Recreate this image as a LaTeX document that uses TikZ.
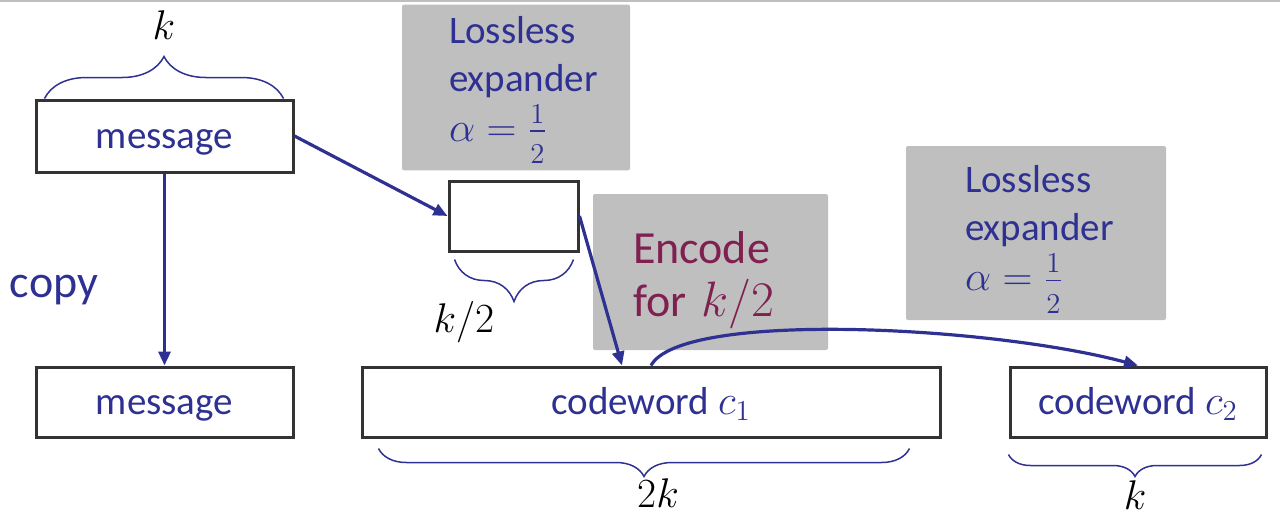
\documentclass[tikz,border=0pt]{standalone}
\usepackage{amsmath}
\usepackage{fontspec}
\setmainfont{Carlito}
\usepackage{xcolor}
\definecolor{navy}{RGB}{46, 49, 146}
\definecolor{wine}{RGB}{128, 32, 80}
\definecolor{boxgray}{RGB}{191, 191, 191}
\usepackage{tikz}
\usetikzlibrary{
    arrows.meta,
    positioning,
    decorations.pathreplacing
}
\tikzstyle{arrow} = [
    navy,
    line width=1.6pt,
    -{Triangle[length=7pt, width=6pt]}
]
\newcommand{\halfalpha}{$\alpha=\genfrac{}{}{0.8pt}{}{\raisebox{1pt}{$\scriptstyle 1$}}{\raisebox{-4pt}{$\scriptstyle 2$}}$}

\begin{document}
\begin{tikzpicture}[
  x=0.5pt, y=-0.5pt,
  block/.style={draw=black!80, line width=1.5pt, fill=white, text=navy,
    font=\fontsize{19.5}{22}\selectfont, minimum height=35pt, inner sep=0pt,
    text height=12pt, text depth=0pt},
  note/.style={fill=boxgray, rounded corners=1pt, text=navy, align=left,
    font=\fontsize{19.5}{24}\selectfont},
  curly/.style={navy, line width=0.75pt, decorate,
    decoration={brace, amplitude=#1}},
  sizelbl/.style={font=\fontsize{19.5}{22}\selectfont, text=black}
]
\useasboundingbox (0,0) rectangle (1280,515);
\draw[black!25, line width=1pt] (0,1) -- (1280,1);

% grey notes
\node (exp1) [note, minimum width=114pt, minimum height=80.5pt, text width=67pt,
  inner xsep=23.5pt] at (516,87.5)
  {\rule{0pt}{16pt}Lossless\\expander\\[1pt]\halfalpha};
\node (enc) [note, minimum width=117.5pt, minimum height=78pt, text width=77.5pt,
  inner xsep=20pt, text=wine, font=\fontsize{23}{26.5}\selectfont] at (710.5,272)
  {\rule{0pt}{24pt}Encode\\for $k/2$};
\node (exp2) [note, minimum width=130pt, minimum height=87pt, text width=71pt,
  inner xsep=29.5pt] at (1036,233)
  {\rule{0pt}{20pt}Lossless\\expander\\[1pt]\halfalpha};

% boxes
\node (msg)     [block, minimum width=128.5pt, minimum height=36pt] at (164.5,136) {message};
\node (msgcopy) [block, minimum width=128.5pt] at (164.5,402) {message};
\node (half)    [block, minimum width=64.5pt] at (513.5,216) {};
\node (cw1)     [block, minimum width=289pt] at (651,402) {codeword $c_1$};
\node (cw2)     [block, minimum width=128pt] at (1138,402) {codeword $c_2$};

\node (copy) [text=navy, font=\fontsize{23}{27}\selectfont] at (54,290) {copy};

% braces
\draw[curly=21pt] ([xshift=5pt]msg.north west) -- ([xshift=-5.5pt]msg.north east)
  node[sizelbl, midway, above=26pt] {$k$};
\draw[curly=21pt] ([xshift=-3pt,yshift=-3.5pt]half.south east) -- ([xshift=3.5pt,yshift=-3.5pt]half.south west);
\node (khalf) [sizelbl] at (464,322) {$k/2$};
\draw[curly=14pt] ([xshift=-16pt,yshift=-5pt]cw1.south east) -- ([xshift=9pt,yshift=-5pt]cw1.south west)
  node[sizelbl, midway, below=11.5pt, xshift=7pt] {$2k$};
\draw[curly=11pt] ([xshift=-3pt,yshift=-8pt]cw2.south east) -- ([yshift=-8pt]cw2.south west)
  node[sizelbl, midway, below=9.5pt] {$k$};

% arrows
\draw[arrow] (msg) -- (msgcopy);
\draw[arrow] (msg.east) -- (half.west);
\draw[arrow] (half.east) -- ([xshift=-14.5pt]cw1.north);
\draw[arrow] (cw1.north) .. controls +(30,-55) and +(-150,-40) .. (cw2.north);

\end{tikzpicture}
\end{document}
